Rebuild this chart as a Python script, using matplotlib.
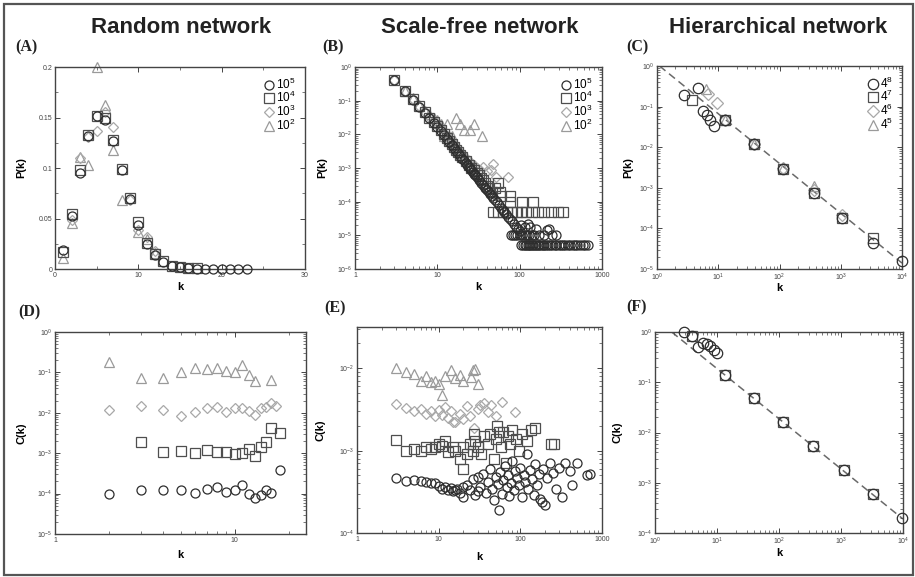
import matplotlib
matplotlib.use("Agg")
import matplotlib.pyplot as plt
from matplotlib.ticker import MultipleLocator, FuncFormatter, LogLocator, NullFormatter
from matplotlib.patches import Rectangle

plt.rcParams["font.family"] = ["Liberation Sans", "DejaVu Sans"]
plt.rcParams["mathtext.fontset"] = "custom"
plt.rcParams["mathtext.rm"] = "Liberation Sans"
plt.rcParams["mathtext.default"] = "regular"

# ----- (A) random network, P(k) -----
ra_k5 = [1, 2, 3, 4, 5, 6, 7, 8, 9, 10, 11, 12, 13, 14, 15, 16, 17, 18, 19, 20, 21, 22, 23]
ra_p5 = [0.019, 0.052, 0.095, 0.132, 0.151, 0.148, 0.127, 0.098, 0.069, 0.044, 0.025, 0.0135,
         0.007, 0.003, 0.0015, 0.0008, 0.0004, 0.0002, 0.0001, 0.00005, 0.00003, 0.00002, 0.00001]
ra_k4 = [1, 2, 3, 4, 5, 6, 7, 8, 9, 10, 11, 12, 13, 14, 15, 16, 17]
ra_p4 = [0.017, 0.054, 0.098, 0.133, 0.151, 0.150, 0.128, 0.099, 0.070, 0.047, 0.026, 0.015,
         0.008, 0.003, 0.002, 0.001, 0.0005]
ra_k3 = [2, 3, 4, 5, 6, 7, 9, 10, 11, 12]
ra_p3 = [0.049, 0.110, 0.131, 0.137, 0.155, 0.141, 0.068, 0.039, 0.032, 0.018]
ra_k2 = [1, 2, 3, 4, 5, 6, 7, 8, 10, 11, 12]
ra_p2 = [0.011, 0.046, 0.111, 0.103, 0.200, 0.162, 0.118, 0.068, 0.037, 0.030, 0.016]

# ----- (B) scale-free network, P(k) -----
sf_k5 = [3, 4, 5, 6, 7, 8, 9, 10, 11, 12, 13, 14, 15, 16, 17, 18, 19, 20, 21, 22, 23, 24, 25, 26,
         27, 28, 29, 30, 32, 34, 36, 38, 40, 42, 44, 46, 48, 50, 53, 56, 59, 62, 65, 68, 72, 76,
         80, 85, 90, 95, 100, 105, 115, 125, 134, 160, 215, 230,
         78, 84, 88, 94, 102, 108, 115, 122, 130, 140, 150, 170, 200, 250, 280,
         105, 110, 115, 120, 125, 130, 135, 140, 146, 152, 158, 165, 172, 180, 190, 200, 210,
         220, 235, 250, 265, 280, 300, 320, 340, 360, 385, 410, 440, 470, 500, 540, 580, 620, 680]
sf_p5 = [0.41, 0.19, 0.105, 0.066, 0.043, 0.030, 0.022, 0.0166, 0.0124, 0.0096, 0.0073, 0.0060,
         0.0047, 0.0039, 0.0032, 0.0027, 0.0023, 0.0019, 0.0017, 0.00145, 0.00126, 0.0011,
         0.00098, 0.00086, 0.00077, 0.00068, 0.00061, 0.00055, 0.00045, 0.00037, 0.00031,
         0.00026, 0.00022, 0.000195, 0.00017, 0.000145, 0.000128, 0.000113, 0.000095, 0.00008,
         0.000067, 0.000058, 0.00005, 0.000044, 0.000036, 0.000031, 0.000026, 0.000022,
         0.000018, 0.0000155, 0.000013, 0.00002, 0.000018, 0.000022, 0.000018, 0.000015,
         0.000014, 0.000015,
         1e-5, 1e-5, 1e-5, 1e-5, 1e-5, 1e-5, 1e-5, 1e-5, 1e-5, 1e-5, 1e-5, 1e-5, 1e-5, 1e-5, 1e-5,
         5e-6, 5e-6, 5e-6, 5e-6, 5e-6, 5e-6, 5e-6, 5e-6, 5e-6, 5e-6, 5e-6, 5e-6, 5e-6, 5e-6,
         5e-6, 5e-6, 5e-6, 5e-6, 5e-6, 5e-6, 5e-6, 5e-6, 5e-6, 5e-6, 5e-6, 5e-6, 5e-6, 5e-6,
         5e-6, 5e-6, 5e-6, 5e-6, 5e-6, 5e-6, 5e-6]
sf_k4 = [3, 4, 5, 6, 7, 8, 9, 10, 11, 12, 13, 14, 15, 16, 17, 18, 19, 20, 22, 24, 26, 28, 30,
         32, 34, 36, 38, 40, 43, 46, 50, 55, 58, 60, 76, 76, 108, 146,
         48, 55, 62, 70, 80, 92, 105, 120, 140, 165, 200, 240, 290, 340]
sf_p4 = [0.40, 0.19, 0.11, 0.068, 0.045, 0.031, 0.023, 0.018, 0.013, 0.010, 0.0080, 0.0063,
         0.0050, 0.0042, 0.0035, 0.0030, 0.0025, 0.0021, 0.0016, 0.0012, 0.0010, 0.00085,
         0.00070, 0.00060, 0.00050, 0.00045, 0.00035, 0.00030, 0.00025, 0.00020, 0.00025,
         0.00035, 0.00020, 0.00015, 0.00015, 0.0001, 0.0001, 0.0001,
         5e-5, 5e-5, 5e-5, 5e-5, 5e-5, 5e-5, 5e-5, 5e-5, 5e-5, 5e-5, 5e-5, 5e-5, 5e-5, 5e-5]
sf_k3 = [3, 4, 5, 6, 7, 8, 9, 10, 11, 12, 13, 14, 15, 16, 17, 18, 19, 20, 22, 24, 26, 28, 30,
         33, 36, 40, 45, 48, 52, 72]
sf_p3 = [0.40, 0.19, 0.11, 0.07, 0.047, 0.033, 0.025, 0.019, 0.015, 0.011, 0.009, 0.0075,
         0.006, 0.005, 0.004, 0.0035, 0.003, 0.0026, 0.002, 0.0016, 0.0014, 0.0012, 0.001,
         0.0009, 0.0011, 0.0008, 0.0009, 0.0013, 0.00055, 0.00055]
sf_k2 = [4, 5, 6, 7, 8, 9, 10, 11, 12, 13, 14, 15, 17, 19, 21, 25, 28, 35]
sf_p2 = [0.2, 0.12, 0.075, 0.05, 0.04, 0.03, 0.026, 0.02, 0.009, 0.02, 0.009, 0.009, 0.03,
         0.02, 0.013, 0.013, 0.02, 0.009]

# ----- (C) hierarchical network, P(k) -----
hn_k8 = [2.75, 4.6, 5.6, 6.5, 7.4, 8.4, 13.0, 39, 116, 363, 1067, 3400, 10000]
hn_p8 = [0.193, 0.29, 0.080, 0.061, 0.048, 0.033, 0.0466, 0.0117, 0.00295, 0.00075, 0.00018,
         0.000044, 0.0000155]
hn_k7 = [3.7, 13.0, 39, 116, 363, 1067, 3400]
hn_p7 = [0.145, 0.0466, 0.0117, 0.00295, 0.00075, 0.00018, 0.000058]
hn_k6 = [6.9, 9.5, 13.0, 39, 116, 363, 1067]
hn_p6 = [0.2, 0.12, 0.0466, 0.0117, 0.0031, 0.0009, 0.00021]
hn_k5 = [6.3, 13.0, 39, 116, 363]
hn_p5 = [0.27, 0.0466, 0.0117, 0.0031, 0.0011]
hn_fit_k = [1.1, 10000]
hn_fit_p = [1.0, 0.000014]

# ----- (D) random network, C(k) -----
rc_k5 = [2, 3, 4, 5, 6, 7, 8, 9, 10, 11, 12, 13, 14, 15, 16, 18]
rc_c5 = [9.5e-5, 1.2e-4, 1.2e-4, 1.25e-4, 1.05e-4, 1.3e-4, 1.45e-4, 1.1e-4, 1.2e-4, 1.6e-4,
         9.5e-5, 7.8e-5, 9e-5, 1.25e-4, 1.05e-4, 3.9e-4]
rc_k4 = [3, 4, 5, 6, 7, 8, 9, 10, 11, 12, 13, 14, 15, 16, 18]
rc_c4 = [1.9e-3, 1.05e-3, 1.15e-3, 1.0e-3, 1.2e-3, 1.05e-3, 1.1e-3, 9.8e-4, 1.0e-3, 1.25e-3,
         8.3e-4, 1.45e-3, 1.9e-3, 4.3e-3, 3.2e-3]
rc_k3 = [2, 3, 4, 5, 6, 7, 8, 9, 10, 11, 12, 13, 14, 15, 16, 17]
rc_c3 = [1.17e-2, 1.5e-2, 1.2e-2, 8.3e-3, 1.05e-2, 1.3e-2, 1.4e-2, 1.05e-2, 1.3e-2, 1.3e-2,
         1.1e-2, 8.8e-3, 1.3e-2, 1.4e-2, 1.7e-2, 1.5e-2]
rc_k2 = [2, 3, 4, 5, 6, 7, 8, 9, 10, 11, 12, 13, 16]
rc_c2 = [0.18, 0.074, 0.074, 0.1, 0.13, 0.12, 0.125, 0.11, 0.1, 0.15, 0.085, 0.062, 0.064]

# ----- (E) scale-free network, C(k) -----
sc_k5 = [3, 4, 5, 6, 7, 8, 9, 10, 11, 12, 13, 14, 15, 16, 17, 18, 20, 20, 22, 24, 26, 28, 30,
         30, 32, 35, 38, 40, 42, 45, 48, 50, 53, 55, 57, 60, 62, 65, 68, 70, 73, 76, 80, 83, 86,
         90, 95, 100, 105, 110, 115, 120, 125, 130, 140, 145, 150, 160, 170, 175, 185, 190, 200,
         210, 230, 250, 270, 300, 320, 350, 400, 430, 500, 650, 720]
sc_c5 = [4.7e-4, 4.3e-4, 4.4e-4, 4.3e-4, 4.2e-4, 4.1e-4, 4.0e-4, 3.7e-4, 3.4e-4, 3.6e-4, 3.3e-4,
         3.5e-4, 3.2e-4, 3.3e-4, 3.4e-4, 3.1e-4, 2.7e-4, 3.6e-4, 3.8e-4, 3.3e-4, 4.5e-4, 2.9e-4,
         3.2e-4, 4.8e-4, 3.6e-4, 5.2e-4, 3.1e-4, 4.2e-4, 6.0e-4, 3.4e-4, 2.5e-4, 4.8e-4, 3.9e-4,
         1.9e-4, 5.5e-4, 3.0e-4, 4.4e-4, 6.5e-4, 3.6e-4, 5.0e-4, 2.8e-4, 4.1e-4, 7.5e-4, 3.3e-4,
         5.6e-4, 4.6e-4, 3.8e-4, 6.2e-4, 2.7e-4, 5.0e-4, 4.2e-4, 9.0e-4, 3.4e-4, 5.8e-4, 4.5e-4,
         2.9e-4, 6.8e-4, 3.8e-4, 5.2e-4, 2.6e-4, 2.4e-4, 6.0e-4, 2.2e-4, 4.6e-4, 7.0e-4, 5.3e-4,
         3.4e-4, 6.1e-4, 2.7e-4, 7.0e-4, 5.6e-4, 3.8e-4, 7.0e-4, 5.0e-4, 5.2e-4]
sc_k4 = [3, 4, 5, 6, 7, 8, 9, 10, 11, 12, 13, 15, 16, 18, 20, 20, 22, 24, 26, 27, 28, 30, 33,
         36, 40, 43, 47, 50, 52, 55, 58, 62, 66, 70, 75, 80, 88, 95, 105, 120, 135, 150, 240, 260]
sc_c4 = [1.36e-3, 1.0e-3, 1.05e-3, 1.0e-3, 1.1e-3, 1.05e-3, 1.1e-3, 1.2e-3, 1.15e-3, 1.3e-3,
         9.5e-4, 1.1e-3, 1.0e-3, 8.0e-4, 1.1e-3, 6.0e-4, 9.0e-4, 1.2e-3, 1.0e-3, 1.6e-3, 1.3e-3,
         1.1e-3, 9.0e-4, 1.5e-3, 1.2e-3, 1.6e-3, 7.8e-4, 1.4e-3, 2.0e-3, 1.7e-3, 1.1e-3, 1.7e-3,
         7.0e-4, 1.5e-3, 1.2e-3, 1.8e-3, 1.4e-3, 1.0e-3, 1.6e-3, 1.3e-3, 1.8e-3, 1.9e-3, 1.2e-3,
         1.2e-3]
sc_k3 = [3, 4, 5, 6, 7, 8, 9, 10, 11, 12, 13, 14, 15, 16, 18, 20, 22, 24, 27, 30, 32, 36, 40,
         44, 50, 60, 85]
sc_c3 = [3.7e-3, 3.3e-3, 3.0e-3, 3.2e-3, 2.8e-3, 3.0e-3, 2.6e-3, 3.1e-3, 2.7e-3, 3.4e-3, 2.5e-3,
         3.0e-3, 2.2e-3, 2.2e-3, 2.8e-3, 2.4e-3, 3.5e-3, 2.6e-3, 1.9e-3, 3.2e-3, 3.6e-3, 3.8e-3,
         2.9e-3, 3.6e-3, 2.6e-3, 3.9e-3, 2.9e-3]
sc_k2 = [3, 4, 5, 6, 7, 8, 9, 10, 11, 12, 14, 16, 18, 20, 25, 26, 28, 30]
sc_c2 = [1.0e-2, 9.0e-3, 8.5e-3, 7.0e-3, 8.0e-3, 6.8e-3, 7.0e-3, 6.5e-3, 4.7e-3, 8.0e-3,
         9.5e-3, 7.5e-3, 8.2e-3, 7.0e-3, 7.8e-3, 9.4e-3, 9.8e-3, 6.5e-3]

# ----- (F) hierarchical network, C(k) -----
hc_k8 = [2.95, 3.94, 4.86, 5.93, 6.88, 7.8, 8.83, 10.0, 13.6, 39.3, 117.5, 360, 1105, 3260, 9750]
hc_c8 = [1.0, 0.82, 0.506, 0.616, 0.571, 0.521, 0.448, 0.385, 0.14, 0.0483, 0.0163, 0.0054,
         0.00181, 0.0006, 0.0002]
hc_k7 = [3.94, 13.6, 39.3, 117.5, 360, 1105, 3260]
hc_c7 = [0.82, 0.14, 0.0483, 0.0163, 0.0054, 0.00181, 0.0006]
hc_fit_k = [1.86, 10000]
hc_fit_c = [1.0, 0.00019]

sizes_rand = ["$10^5$", "$10^4$", "$10^3$", "$10^2$"]
sizes_hier = ["$4^8$", "$4^7$", "$4^6$", "$4^5$"]

MARKERS = ["o", "s", "D", "^"]
COLORS = ["#2e2e2e", "#4e4e4e", "#a8a8a8", "#9a9a9a"]
W, H = 915, 577


def add_axes(fig, x0, y0, x1, y1):
    # pixel box -> figure fraction
    return fig.add_axes([x0 / W, 1 - y1 / H, (x1 - x0) / W, (y1 - y0) / H])


def series(ax, xs, ys, i, ms=6.5, label=None):
    m = MARKERS[i]
    size = ms * 0.78 if m == "D" else ms
    (h,) = ax.plot(xs, ys, ls="none", marker=m, ms=size, mfc="none", mec=COLORS[i],
                   mew=0.9, label=label, clip_on=False, zorder=5 - i)
    return h


def style(ax, ylab, ylab_x, klab_y):
    for s in ax.spines.values():
        s.set_color("#444444")
        s.set_linewidth(1.0)
    ax.tick_params(which="both", direction="in", top=True, right=True, colors="#444444",
                   labelsize=5, pad=2)
    ax.tick_params(which="major", length=3.5, width=0.7)
    ax.tick_params(which="minor", length=2, width=0.5)
    ax.set_ylabel(ylab, fontsize=8, fontweight="bold")
    ax.set_xlabel("k", fontsize=8, fontweight="bold")
    ax.yaxis.set_label_coords(ylab_x, 0.5)
    ax.xaxis.set_label_coords(0.5, klab_y)


def log_axes(ax, plain_x=False):
    ax.set_xscale("log")
    ax.set_yscale("log")
    for a in (ax.xaxis, ax.yaxis):
        a.set_minor_locator(LogLocator(base=10, subs=range(2, 10), numticks=20))
        a.set_minor_formatter(NullFormatter())
    if plain_x:
        ax.xaxis.set_major_formatter(FuncFormatter(lambda v, p: "%g" % v))


def legend(ax, handles, labels):
    ax.legend(handles, labels, loc="upper right", frameon=False, fontsize=8.5,
              handletextpad=0.1, handlelength=1.0, labelspacing=-0.12, borderaxespad=0.5,
              borderpad=0.3)


fig = plt.figure(figsize=(W / 100, H / 100), dpi=100)

# (A)
ax = add_axes(fig, 55, 67, 305, 269)
hs = [series(ax, x, y, i) for i, (x, y) in
      enumerate([(ra_k5, ra_p5), (ra_k4, ra_p4), (ra_k3, ra_p3), (ra_k2, ra_p2)])]
ax.set_xlim(0, 30)
ax.set_ylim(0, 0.2)
ax.xaxis.set_major_locator(MultipleLocator(10))
ax.xaxis.set_minor_locator(MultipleLocator(5))
ax.yaxis.set_major_locator(MultipleLocator(0.05))
ax.yaxis.set_minor_locator(MultipleLocator(0.025))
ax.xaxis.set_major_formatter(FuncFormatter(lambda v, p: "%g" % v))
ax.yaxis.set_major_formatter(FuncFormatter(lambda v, p: "%g" % v))
style(ax, "P(k)", -0.116, -0.065)
legend(ax, hs, sizes_rand)

# (B)
ax = add_axes(fig, 355, 67, 602, 269)
hs = [series(ax, x, y, i) for i, (x, y) in
      enumerate([(sf_k5, sf_p5), (sf_k4, sf_p4), (sf_k3, sf_p3), (sf_k2, sf_p2)])]
log_axes(ax, plain_x=True)
ax.set_xlim(1, 1000)
ax.set_ylim(1e-6, 1)
style(ax, "P(k)", -0.113, -0.065)
legend(ax, hs, sizes_rand)

# (C)
ax = add_axes(fig, 657, 66, 902, 269)
ax.plot(hn_fit_k, hn_fit_p, ls=(0, (5, 3)), color="#6a6a6a", lw=1.1, zorder=1)
hs = [series(ax, x, y, i, ms=7.5) for i, (x, y) in
      enumerate([(hn_k8, hn_p8), (hn_k7, hn_p7), (hn_k6, hn_p6), (hn_k5, hn_p5)])]
log_axes(ax)
ax.set_xlim(1, 1e4)
ax.set_ylim(1e-5, 1)
style(ax, "P(k)", -0.098, -0.068)
legend(ax, hs, sizes_hier)

# (D)
ax = add_axes(fig, 55, 332, 306, 534)
for i, (x, y) in enumerate([(rc_k5, rc_c5), (rc_k4, rc_c4), (rc_k3, rc_c3), (rc_k2, rc_c2)]):
    series(ax, x, y, i)
log_axes(ax, plain_x=True)
ax.set_xlim(1, 25)
ax.set_ylim(1e-5, 1)
style(ax, "C(k)", -0.112, -0.08)

# (E)
ax = add_axes(fig, 357, 327, 602, 533)
for i, (x, y) in enumerate([(sc_k5, sc_c5), (sc_k4, sc_c4), (sc_k3, sc_c3), (sc_k2, sc_c2)]):
    series(ax, x, y, i)
log_axes(ax, plain_x=True)
ax.set_xlim(1, 1000)
ax.set_ylim(1e-4, 10 ** -1.5)
style(ax, "C(k)", -0.127, -0.093)

# (F)
ax = add_axes(fig, 655, 332, 903, 533)
ax.plot(hc_fit_k, hc_fit_c, ls=(0, (5, 3)), color="#6a6a6a", lw=1.1, zorder=1)
series(ax, hc_k7, hc_c7, 1, ms=6.5)
series(ax, hc_k8, hc_c8, 0, ms=7.5)
log_axes(ax)
ax.set_xlim(1, 1e4)
ax.set_ylim(1e-4, 1)
style(ax, "C(k)", -0.133, -0.075)

# column headings and panel letters
for x, t in [(181, "Random network"), (480, "Scale-free network"), (778, "Hierarchical network")]:
    fig.text(x / W, 1 - 33 / H, t, ha="center", va="baseline", fontsize=16,
             fontweight="bold", color="#222222")
for x, y, t in [(15, 51, "(A)"), (322, 51, "(B)"), (626, 51, "(C)"),
                (18, 316, "(D)"), (324, 312, "(E)"), (626, 311, "(F)")]:
    fig.text(x / W, 1 - y / H, t, ha="left", va="baseline", fontsize=11.5,
             fontweight="bold", family="Liberation Serif", color="#222222")

fig.patches.append(Rectangle((4 / W, 2 / H), 909 / W, 571 / H, transform=fig.transFigure,
                             fill=False, edgecolor="#555555", lw=1.6))

fig.savefig("out.png", dpi=100)
